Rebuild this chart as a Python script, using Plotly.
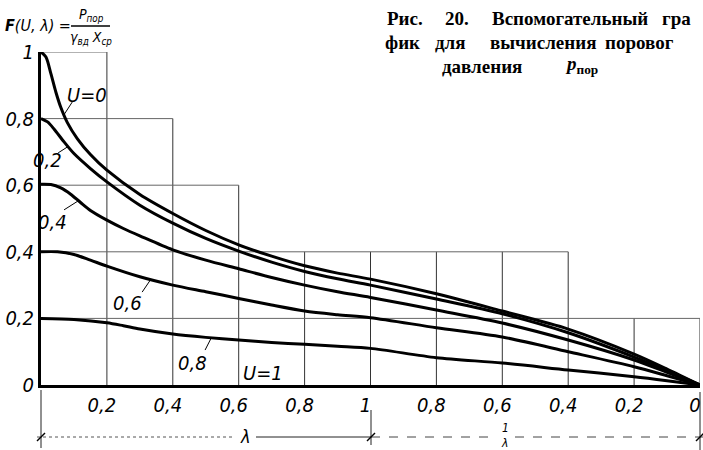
import plotly.graph_objects as go

# ---------------- data ----------------
# left part: abscissa lambda (0..1); right part: abscissa 1/lambda (1..0)
u_labels = ["U=0", "0,2", "0,4", "0,6", "0,8"]

lam_u0 = [0, 0.015, 0.03, 0.045, 0.06, 0.08, 0.11, 0.15, 0.2, 0.3, 0.4, 0.5, 0.6, 0.7, 0.8, 0.9, 1.0]
f_u0 = [1.0, 0.985, 0.935, 0.88, 0.834, 0.788, 0.74, 0.692, 0.645, 0.572, 0.515, 0.464, 0.421, 0.387, 0.358, 0.336, 0.318]

lam_u02 = [0, 0.02, 0.04, 0.07, 0.1, 0.15, 0.2, 0.3, 0.4, 0.5, 0.6, 0.7, 0.8, 0.9, 1.0]
f_u02 = [0.8, 0.79, 0.768, 0.73, 0.695, 0.65, 0.61, 0.54, 0.486, 0.44, 0.402, 0.369, 0.341, 0.319, 0.30]

lam_u04 = [0, 0.03, 0.06, 0.09, 0.12, 0.15, 0.2, 0.25, 0.3, 0.4, 0.5, 0.6, 0.7, 0.8, 0.9, 1.0]
f_u04 = [0.603, 0.602, 0.592, 0.573, 0.548, 0.524, 0.495, 0.47, 0.448, 0.406, 0.375, 0.349, 0.323, 0.30, 0.28, 0.263]

lam_u06 = [0, 0.05, 0.1, 0.15, 0.2, 0.3, 0.4, 0.5, 0.6, 0.7, 0.8, 0.9, 1.0]
f_u06 = [0.40, 0.40, 0.392, 0.375, 0.357, 0.325, 0.30, 0.28, 0.26, 0.24, 0.222, 0.211, 0.202]

lam_u08 = [0, 0.1, 0.2, 0.25, 0.3, 0.4, 0.5, 0.6, 0.7, 0.8, 0.9, 1.0]
f_u08 = [0.20, 0.197, 0.187, 0.178, 0.168, 0.153, 0.143, 0.135, 0.128, 0.122, 0.116, 0.11]

inv_lam = [0.8, 0.6, 0.4, 0.2, 0.1, 0.0]
f_u0_r = [0.274, 0.222, 0.168, 0.093, 0.048, 0.0]
f_u02_r = [0.258, 0.214, 0.157, 0.084, 0.043, 0.0]
f_u04_r = [0.225, 0.186, 0.135, 0.075, 0.038, 0.0]
f_u06_r = [0.172, 0.144, 0.100, 0.055, 0.028, 0.0]
f_u08_r = [0.082, 0.066, 0.045, 0.025, 0.013, 0.0]

x_tick_vals = [0.2, 0.4, 0.6, 0.8, 1.0, 1.2, 1.4, 1.6, 1.8, 2.0]
x_tick_text = ["0,2", "0,4", "0,6", "0,8", "1", "0,8", "0,6", "0,4", "0,2", "0"]
y_tick_vals = [0, 0.2, 0.4, 0.6, 0.8, 1.0]
y_tick_text = ["0", "0,2", "0,4", "0,6", "0,8", "1"]

# stepped grid: (x position, top of vertical line)
grid_vert = [(0.2, 1.0), (0.4, 0.8), (0.6, 0.6), (0.8, 0.4), (1.0, 0.4), (1.2, 0.4),
             (1.4, 0.4), (1.6, 0.4), (1.8, 0.2), (2.0, 0.2)]
# (y level, right end of horizontal line)
grid_horiz = [(1.0, 0.2), (0.8, 0.4), (0.6, 0.6), (0.4, 1.6), (0.2, 2.0)]

# ---------------- figure ----------------
NARROW = "Liberation Sans Narrow, DejaVu Sans Condensed, Arial Narrow, sans-serif"
SERIF = "Liberation Serif, Times New Roman, serif"

fig = go.Figure()

left_sets = [(lam_u0, f_u0, f_u0_r), (lam_u02, f_u02, f_u02_r), (lam_u04, f_u04, f_u04_r),
             (lam_u06, f_u06, f_u06_r), (lam_u08, f_u08, f_u08_r)]
for (lam, fl, fr), name in zip(left_sets, u_labels):
    xs = list(lam) + [2 - v for v in inv_lam]
    ys = list(fl) + list(fr)
    fig.add_trace(go.Scatter(x=xs, y=ys, mode="lines", name=name,
                             line=dict(color="black", width=3, shape="spline", smoothing=0.8),
                             cliponaxis=False, showlegend=False, hoverinfo="skip"))

shapes = []
for xv, top in grid_vert:
    shapes.append(dict(type="line", xref="x", yref="y", x0=xv, x1=xv, y0=0, y1=top,
                       line=dict(color="#333", width=1), layer="below"))
for yv, right in grid_horiz:
    shapes.append(dict(type="line", xref="x", yref="y", x0=0, x1=right, y0=yv, y1=yv,
                       line=dict(color="#666", width=1), layer="below"))

# pixel helpers for decorations outside the plot area (plot area: x 41..700, y 52..385)
def px(p):
    return (p - 41) / 659.0

def py(p):
    return (385 - p) / 333.0

# dimension lines and extension lines below the axis
dim_y = py(437)
ln = dict(color="#222", width=1)
shapes += [
    dict(type="line", xref="paper", yref="paper", x0=px(41), x1=px(41), y0=py(390), y1=py(448), line=ln),
    dict(type="line", xref="paper", yref="paper", x0=px(371), x1=px(371), y0=py(410), y1=py(445), line=ln),
    dict(type="line", xref="paper", yref="paper", x0=px(700), x1=px(700), y0=py(392), y1=py(450), line=ln),
    dict(type="line", xref="paper", yref="paper", x0=px(37), x1=px(232), y0=dim_y, y1=dim_y,
         line=dict(color="#555", width=1, dash="dot")),
    dict(type="line", xref="paper", yref="paper", x0=px(256), x1=px(371), y0=dim_y, y1=dim_y, line=ln),
    dict(type="line", xref="paper", yref="paper", x0=px(371), x1=px(495), y0=dim_y, y1=dim_y,
         line=dict(color="#444", width=1, dash="dash")),
    dict(type="line", xref="paper", yref="paper", x0=px(515), x1=px(703), y0=dim_y, y1=dim_y,
         line=dict(color="#444", width=1, dash="dash")),
]
for xp in (41, 371, 700):
    shapes.append(dict(type="line", xref="paper", yref="paper", x0=px(xp - 4), x1=px(xp + 4),
                       y0=py(441), y1=py(433), line=dict(color="black", width=1.5)))

# leader lines from labels to curves (data coordinates)
leaders = [((0.097, 0.853), (0.070, 0.812)),
           ((0.052, 0.697), (0.082, 0.716)),
           ((0.070, 0.526), (0.113, 0.553)),
           ((0.307, 0.279), (0.331, 0.314)),
           ((0.498, 0.105), (0.516, 0.140))]
for (a, b) in leaders:
    shapes.append(dict(type="line", xref="x", yref="y", x0=a[0], y0=a[1], x1=b[0], y1=b[1],
                       line=dict(color="black", width=1)))

# fraction bar for the F formula
shapes.append(dict(type="line", xref="paper", yref="paper", x0=px(71), x1=px(110),
                   y0=py(26), y1=py(26), line=dict(color="black", width=1.5)))

lab_font = dict(family=NARROW, size=20, color="black", style="italic")
annotations = []
curve_labels = [("U=0", 0.14, 0.871), ("0,2", 0.021, 0.676), ("0,4", 0.036, 0.49),
                ("0,6", 0.264, 0.246), ("0,8", 0.461, 0.066), ("U=1", 0.674, 0.036)]
for t, xv, yv in curve_labels:
    annotations.append(dict(text=t, x=xv, y=yv, xref="x", yref="y", showarrow=False,
                            font=lab_font, xanchor="center", yanchor="middle"))

# dimension labels
small_it = dict(family=NARROW, size=12, color="black", style="italic")
annotations += [
    dict(text="λ", x=px(245), y=py(436), xref="paper", yref="paper", showarrow=False,
         font=dict(family=NARROW, size=18, color="black", style="italic"), xanchor="center", yanchor="middle"),
    dict(text="1", x=px(505), y=py(436), xref="paper", yref="paper", showarrow=False,
         font=small_it, xanchor="center", yanchor="bottom", borderpad=0),
    dict(text="λ", x=px(504), y=py(435), xref="paper", yref="paper", showarrow=False,
         font=small_it, xanchor="center", yanchor="top", borderpad=0),
]

# formula at top-left
annotations += [
    dict(text="<b>F</b>(U, λ) =", x=px(3), y=py(26), xref="paper", yref="paper", showarrow=False,
         font=dict(family=NARROW, size=16, color="black", style="italic"), xanchor="left", yanchor="middle"),
    dict(text="P<sub>пор</sub>", x=px(91), y=py(15), xref="paper", yref="paper", showarrow=False,
         font=dict(family=NARROW, size=14, color="black", style="italic"), xanchor="center", yanchor="middle"),
    dict(text="γ<sub>вд</sub> X<sub>ср</sub>", x=px(91), y=py(38), xref="paper", yref="paper", showarrow=False,
         font=dict(family=NARROW, size=14, color="black", style="italic"), xanchor="center", yanchor="middle"),
]

# caption, word by word (justified, cut at right edge as in the reference)
cap_font = dict(family=SERIF, size=19, color="black", weight="bold")
caption_words = [("Рис.", 385, 31), ("20.", 443, 31), ("Вспомогательный", 490, 31), ("гра", 660, 31),
                 ("фик", 383, 55), ("для", 433, 55), ("вычисления", 488, 55), ("поровог", 603, 55),
                 ("давления", 440, 79), ("<i>p</i><sub>пор</sub>", 563, 79)]
for t, xp, yp in caption_words:
    annotations.append(dict(text=t, x=px(xp), y=py(yp), xref="paper", yref="paper",
                            showarrow=False, font=cap_font, xanchor="left", yanchor="bottom"))

tick_font = dict(family=NARROW, size=20, color="black", style="italic")
fig.update_layout(
    width=703, height=450,
    margin=dict(l=41, r=3, t=52, b=65),
    plot_bgcolor="white", paper_bgcolor="white",
    shapes=shapes, annotations=annotations,
    xaxis=dict(range=[0, 2], showgrid=False, zeroline=False, showline=True, linewidth=3,
               linecolor="black", tickvals=x_tick_vals, ticktext=x_tick_text, ticks="",
               tickfont=tick_font, fixedrange=True, automargin=False,
               ticklabelshift=-5, ticklabeloverflow="allow"),
    yaxis=dict(range=[0, 1], showgrid=False, zeroline=False, showline=True, linewidth=3,
               linecolor="black", tickvals=y_tick_vals, ticktext=y_tick_text, ticks="",
               tickfont=tick_font, fixedrange=True, automargin=False,
               ticklabeloverflow="allow"),
)

fig.write_html("out.html", config={"displayModeBar": False},
               post_script="document.body.style.margin='0px';")
